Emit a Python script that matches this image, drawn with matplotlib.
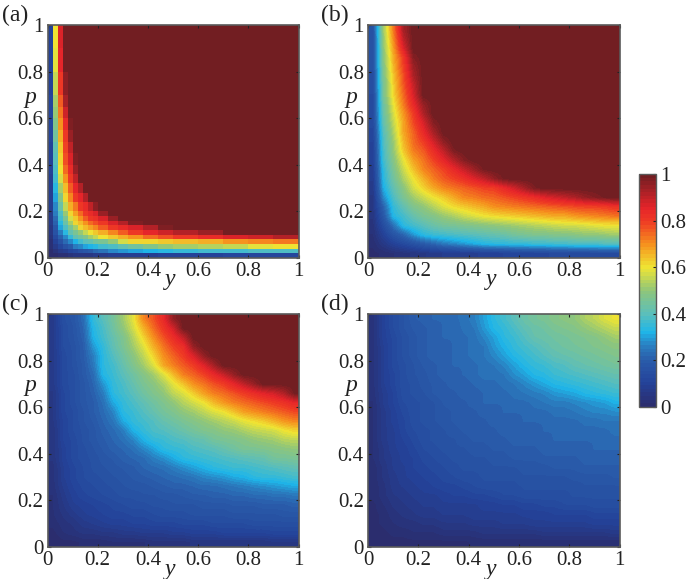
#!/usr/bin/env python3
"""Four heatmaps over (y, p) with one shared colour bar."""
import numpy as np
import matplotlib
matplotlib.use('Agg')
import matplotlib.pyplot as plt
from matplotlib.colors import LinearSegmentedColormap

W, H = 686, 579

TICKS = [0, 0.2, 0.4, 0.6, 0.8, 1]
TICK_LABELS = ['0', '0.2', '0.4', '0.6', '0.8', '1']

# panel (a) has a narrow band, so its cells get finer towards the axes
Y_EDGES_A = [0, .02, .04, .06, .08, .10, .12, .14, .16, .18, .20, .24, .28, .32, .38, .44,
             .5, .6, .7, .8, .9, 1]
P_EDGES_A = [0, .02, .04, .06, .08, .10, .12, .14, .16, .18, .20, .24, .28, .32, .36, .40,
             .45, .5, .55, .6, .65, .7, .8, .9, 1]

# values in percent, first row is the top of the panel (p = 1)
VALUES_A = [
    [10, 60, 87] + [100] * 18,
    [10, 58, 85, 99] + [100] * 17,
    [10, 55, 80, 96] + [100] * 17,
    [11, 52, 76, 93] + [100] * 17,
    [11, 50, 72, 88, 99] + [100] * 16,
    [11, 48, 69, 84, 97] + [100] * 16,
    [11, 45, 67, 81, 94] + [100] * 16,
    [10, 42, 64, 79, 90, 99] + [100] * 15,
    [10, 40, 61, 77, 87, 97] + [100] * 15,
    [10, 38, 60, 74, 84, 94] + [100] * 15,
    [9, 36, 57, 69, 80, 90, 99] + [100] * 14,
    [9, 33, 53, 65, 76, 85, 92] + [100] * 14,
    [9, 30, 47, 62, 71, 80, 85, 92, 99] + [100] * 12,
    [8, 28, 43, 56, 66, 73, 80, 84, 90, 96] + [100] * 11,
    [7, 25, 39, 50, 61, 68, 74, 80, 84, 87, 94] + [100] * 10,
    [7, 23, 36, 46, 57, 64, 70, 75, 80, 82, 87, 95] + [100] * 9,
    [7, 21, 33, 43, 53, 61, 65, 69, 74, 78, 81, 86, 92, 98] + [100] * 7,
    [6, 18, 30, 39, 46, 53, 61, 65, 68, 71, 75, 80, 83, 87, 92, 98] + [100] * 5,
    [5, 16, 25, 34, 41, 46, 50, 55, 60, 63, 66, 71, 76, 80, 85, 88, 91, 95, 99, 100, 100],
    [4, 13, 21, 28, 35, 41, 45, 48, 52, 56, 60, 63, 66, 70, 74, 78, 80, 83, 86, 89, 92],
    [3, 10, 16, 23, 27, 32, 37, 40, 42, 44, 46, 50, 57, 61, 62, 64, 65, 67, 69, 71, 72],
    [2, 7, 12, 16, 20, 25, 28, 30, 32, 34, 36, 39, 42, 45, 47, 50, 52, 54, 56, 58, 60],
    [1, 4, 7, 9, 11, 14, 16, 18, 20, 22, 24, 27, 29, 31, 32, 34, 35, 36, 37, 38, 39],
    [0, 1, 2, 3, 4, 5, 5, 6, 6, 7, 7, 8, 8, 9, 9, 10, 10, 10, 11, 11, 12],
]

VALUES_B = [
    [17, 51, 72, 93] + [100] * 21,
    [16, 50, 70, 90] + [100] * 21,
    [16, 49, 68, 86] + [100] * 21,
    [16, 48, 66, 80, 97] + [100] * 20,
    [16, 47, 65, 79, 94] + [100] * 20,
    [15, 46, 63, 77, 92] + [100] * 20,
    [15, 45, 62, 76, 89] + [100] * 20,
    [14, 45, 61, 74, 87] + [100] * 20,
    [14, 43, 59, 72, 84, 95] + [100] * 19,
    [14, 42, 57, 69, 80, 92] + [100] * 19,
    [13, 41, 55, 67, 78, 87, 97] + [100] * 18,
    [12, 39, 53, 67, 75, 84, 93] + [100] * 18,
    [11, 38, 51, 65, 74, 80, 88, 96] + [100] * 17,
    [10, 37, 50, 63, 72, 76, 83, 90, 98] + [100] * 16,
    [10, 36, 48, 59, 68, 73, 79, 85, 91, 97] + [100] * 15,
    [9, 34, 46, 56, 64, 71, 75, 79, 84, 89, 94, 99] + [100] * 13,
    [8, 33, 44, 53, 60, 66, 72, 76, 79, 82, 86, 90, 95, 99] + [100] * 11,
    [7, 31, 41, 49, 57, 62, 67, 71, 73, 75, 77, 79, 80, 84, 88, 93, 98] + [100] * 8,
    [6, 27, 38, 46, 52, 56, 60, 63, 67, 71, 72, 74, 75, 77, 79, 81, 83, 86, 88, 90, 92, 95, 97, 99, 100],
    [6, 21, 35, 41, 47, 50, 54, 58, 61, 63, 65, 67, 70, 71, 72, 73, 74, 75, 76, 77, 78, 79, 79, 80, 82],
    [5, 18, 33, 37, 42, 46, 48, 51, 53, 56, 58, 60, 61, 62, 63, 64, 65, 66, 67, 67, 69, 70, 71, 72, 73],
    [4, 14, 24, 34, 37, 40, 43, 45, 46, 47, 48, 49, 50, 51, 52, 53, 54, 55, 56, 57, 57, 58, 59, 60, 60],
    [3, 10, 17, 22, 29, 34, 36, 37, 38, 39, 40, 41, 42, 43, 45, 46, 47, 47, 48, 48, 49, 50, 50, 51, 52],
    [2, 6, 10, 13, 16, 19, 22, 25, 27, 29, 31, 33, 34, 34, 35, 35, 36, 36, 37, 37, 38, 38, 38, 39, 39],
    [1, 2, 3, 4, 5, 6, 7, 8, 8, 9, 9, 10, 10, 11, 11, 12, 12, 12, 13, 13, 13, 13, 14, 14, 14],
]

VALUES_C = [
    [7, 15, 18, 23, 35, 40, 45, 52, 59, 71, 77, 84, 96] + [100] * 12,
    [7, 14, 17, 22, 33, 38, 44, 50, 57, 66, 74, 81, 88] + [100] * 12,
    [7, 14, 17, 21, 32, 37, 42, 47, 54, 62, 70, 77, 83, 90] + [100] * 11,
    [7, 14, 16, 20, 29, 35, 41, 46, 52, 58, 66, 73, 79, 83, 95] + [100] * 10,
    [7, 13, 16, 20, 26, 34, 39, 44, 49, 55, 62, 70, 75, 80, 87, 95] + [100] * 9,
    [7, 13, 16, 19, 25, 34, 37, 42, 47, 52, 58, 67, 72, 76, 80, 86, 93] + [100] * 8,
    [7, 13, 15, 19, 23, 33, 36, 40, 44, 48, 52, 58, 65, 72, 75, 79, 84, 89, 95] + [100] * 6,
    [7, 13, 15, 18, 22, 29, 35, 38, 42, 46, 49, 53, 59, 64, 70, 73, 77, 80, 85, 90, 95] + [100] * 4,
    [6, 12, 15, 18, 21, 26, 34, 37, 40, 44, 47, 50, 55, 58, 63, 68, 72, 74, 77, 80, 83, 86, 88, 92, 99],
    [6, 12, 15, 18, 20, 24, 31, 35, 38, 41, 44, 47, 50, 54, 57, 60, 65, 69, 72, 74, 76, 78, 80, 82, 85],
    [6, 12, 14, 17, 20, 23, 27, 34, 36, 39, 42, 45, 47, 50, 52, 55, 58, 60, 64, 68, 70, 72, 74, 76, 78],
    [6, 11, 14, 17, 19, 22, 25, 31, 35, 37, 39, 42, 44, 46, 48, 50, 52, 54, 56, 59, 61, 63, 66, 69, 71],
    [5, 11, 14, 16, 18, 21, 23, 26, 32, 35, 38, 39, 41, 43, 45, 47, 48, 50, 51, 53, 55, 56, 57, 60, 62],
    [5, 11, 13, 16, 18, 20, 22, 24, 27, 32, 35, 36, 38, 39, 41, 42, 45, 46, 47, 48, 50, 51, 52, 54, 55],
    [5, 10, 13, 15, 17, 19, 21, 22, 24, 27, 30, 34, 35, 36, 38, 39, 40, 42, 44, 46, 46, 47, 48, 49, 50],
    [5, 10, 13, 15, 16, 18, 19, 21, 22, 23, 26, 28, 31, 34, 35, 36, 37, 38, 39, 40, 41, 42, 45, 45, 46],
    [4, 9, 12, 14, 16, 17, 18, 19, 20, 22, 23, 24, 26, 28, 30, 32, 34, 35, 36, 36, 37, 38, 39, 40, 41],
    [4, 9, 12, 14, 15, 16, 17, 18, 19, 20, 21, 22, 23, 24, 25, 27, 28, 29, 31, 32, 34, 35, 35, 36, 37],
    [4, 8, 11, 13, 14, 15, 16, 17, 18, 18, 19, 20, 21, 21, 22, 23, 23, 24, 25, 26, 27, 28, 29, 30, 31],
    [3, 7, 10, 12, 13, 14, 15, 16, 16, 17, 17, 18, 18, 19, 20, 20, 21, 21, 22, 22, 23, 23, 24, 24, 25],
    [3, 6, 9, 10, 11, 12, 13, 14, 15, 15, 16, 16, 17, 17, 17, 18, 18, 18, 19, 19, 19, 20, 20, 20, 21],
    [3, 5, 7, 9, 10, 11, 12, 12, 13, 13, 14, 15, 15, 15, 16, 16, 16, 16, 17, 17, 17, 17, 17, 18, 18],
    [2, 4, 5, 7, 8, 9, 10, 10, 11, 11, 12, 12, 12, 13, 13, 13, 14, 14, 14, 14, 15, 15, 15, 15, 15],
    [1, 3, 4, 5, 5, 6, 6, 7, 7, 8, 8, 8, 9, 9, 10, 10, 10, 11, 11, 11, 11, 11, 12, 12, 12],
    [0, 1, 1, 2, 2, 2, 3, 3, 3, 3, 4, 4, 4, 4, 5, 5, 5, 5, 5, 5, 5, 5, 6, 6, 6],
]

VALUES_D = [
    [4, 10, 14, 17, 20, 21, 22, 22, 23, 24, 26, 30, 34, 37, 40, 43, 45, 46, 48, 49, 50, 53, 55, 58, 60],
    [4, 10, 14, 17, 19, 20, 21, 22, 22, 24, 25, 29, 33, 35, 38, 41, 43, 44, 46, 47, 48, 50, 52, 54, 56],
    [4, 10, 13, 16, 18, 20, 21, 22, 22, 23, 24, 27, 30, 34, 36, 39, 42, 43, 44, 45, 46, 47, 48, 50, 52],
    [4, 9, 13, 16, 18, 20, 21, 21, 22, 23, 24, 25, 29, 32, 35, 37, 39, 41, 43, 44, 45, 46, 47, 48, 49],
    [4, 9, 13, 16, 18, 20, 21, 21, 22, 23, 24, 25, 27, 30, 33, 35, 37, 39, 41, 42, 43, 44, 45, 46, 47],
    [4, 9, 13, 15, 17, 19, 20, 21, 22, 22, 23, 24, 25, 27, 30, 33, 35, 36, 38, 39, 41, 42, 43, 44, 45],
    [4, 9, 12, 15, 17, 18, 20, 21, 21, 22, 23, 24, 24, 25, 28, 30, 33, 34, 36, 37, 38, 39, 40, 41, 42],
    [4, 9, 12, 15, 16, 18, 19, 20, 21, 21, 22, 23, 23, 24, 25, 27, 29, 31, 33, 34, 35, 36, 37, 38, 39],
    [4, 8, 11, 15, 16, 17, 19, 20, 20, 21, 21, 22, 22, 23, 24, 25, 26, 27, 29, 30, 31, 33, 34, 35, 36],
    [3, 8, 11, 14, 15, 16, 17, 19, 20, 20, 21, 22, 22, 22, 23, 23, 24, 25, 26, 26, 27, 28, 29, 30, 32],
    [3, 7, 10, 13, 15, 16, 17, 18, 19, 20, 20, 21, 21, 22, 22, 22, 23, 23, 24, 24, 25, 26, 27, 27, 28],
    [3, 7, 10, 12, 15, 16, 17, 18, 19, 20, 20, 20, 21, 21, 21, 22, 22, 22, 23, 23, 23, 24, 24, 25, 25],
    [3, 7, 9, 12, 14, 15, 16, 17, 18, 19, 20, 20, 20, 21, 21, 21, 21, 22, 22, 22, 22, 23, 23, 23, 24],
    [3, 7, 9, 11, 13, 15, 16, 17, 17, 18, 19, 19, 20, 20, 21, 21, 21, 21, 22, 22, 22, 22, 22, 23, 23],
    [3, 6, 9, 10, 12, 14, 15, 16, 17, 17, 18, 18, 19, 19, 20, 20, 20, 21, 21, 21, 21, 21, 22, 22, 22],
    [3, 6, 8, 10, 11, 13, 14, 15, 16, 16, 17, 17, 18, 18, 19, 19, 19, 20, 20, 20, 20, 21, 21, 21, 21],
    [2, 5, 8, 9, 11, 12, 13, 14, 15, 16, 16, 16, 17, 17, 17, 18, 18, 18, 19, 19, 19, 20, 20, 20, 20],
    [2, 5, 7, 9, 10, 11, 12, 13, 14, 15, 15, 16, 16, 16, 16, 17, 17, 17, 17, 17, 18, 18, 18, 18, 19],
    [2, 4, 7, 8, 9, 10, 11, 12, 12, 13, 14, 15, 15, 15, 15, 16, 16, 16, 16, 16, 16, 17, 17, 17, 17],
    [2, 4, 6, 7, 8, 9, 9, 10, 11, 11, 12, 12, 13, 14, 14, 15, 15, 15, 15, 15, 16, 16, 16, 16, 16],
    [1, 3, 5, 6, 7, 8, 8, 9, 9, 9, 9, 10, 10, 11, 11, 12, 12, 13, 13, 14, 14, 14, 15, 15, 15],
    [1, 2, 4, 5, 6, 7, 7, 8, 8, 8, 9, 9, 9, 9, 9, 10, 10, 10, 11, 11, 11, 11, 12, 12, 12],
    [1, 2, 3, 4, 4, 5, 5, 6, 6, 6, 7, 7, 7, 8, 8, 8, 9, 9, 9, 9, 9, 9, 10, 10, 10],
    [0, 1, 2, 2, 3, 3, 3, 4, 4, 4, 4, 5, 5, 5, 5, 5, 5, 6, 6, 6, 6, 6, 6, 6, 7],
    [0, 0, 1, 1, 1, 1, 1, 1, 1, 1, 2, 2, 2, 2, 2, 2, 2, 2, 2, 2, 2, 2, 2, 2, 2],
]

COLOUR_STOPS = [
    (0.00, '#2b2d6e'), (0.10, '#24439a'), (0.20, '#2a5dab'), (0.26, '#2a7fc1'),
    (0.32, '#1fb6e9'), (0.40, '#5dbfb9'), (0.50, '#8fc67a'), (0.60, '#efe534'),
    (0.70, '#f6921e'), (0.80, '#ef3b24'), (0.86, '#e5242a'), (1.00, '#721e22'),
]
CMAP = LinearSegmentedColormap.from_list('paper_jet', COLOUR_STOPS, N=64)

SPINE = '#5a5a5a'

plt.rcParams['font.family'] = ['Liberation Serif', 'DejaVu Serif']


def box(left, top, right, bottom):
    """Axes rectangle from pixel edges of the reference."""
    return [left / W, 1 - bottom / H, (right - left) / W, (bottom - top) / H]


def style_axes(ax):
    ax.set_xlim(0, 1)
    ax.set_ylim(0, 1)
    ax.set_xticks(TICKS)
    ax.set_xticklabels(TICK_LABELS)
    ax.set_yticks(TICKS)
    ax.set_yticklabels(TICK_LABELS)
    ax.tick_params(direction='in', length=2, width=0.8, top=True, right=True,
                   labelsize=15, color='#222222', labelcolor='#222222', pad=3)
    for s in ax.spines.values():
        s.set_color(SPINE)
        s.set_linewidth(1.2)


def fig_text(fig, px, py, s, **kw):
    fig.text(px / W, 1 - py / H, s, color='#222222', ha='center', va='center', **kw)


def draw_panels(fig):
    panels = [
        ('(a)', VALUES_A, (47.5, 25, 298.5, 258), 0),
        ('(b)', VALUES_B, (368, 25, 619.5, 258), 320),
        ('(c)', VALUES_C, (47.5, 314, 298.5, 547), 0),
        ('(d)', VALUES_D, (368, 314, 619.5, 547), 320),
    ]
    im = None
    for name, values, rect, name_x in panels:
        ax = fig.add_axes(box(*rect))
        z = np.array(values) / 100
        if name == '(a)':
            im = ax.pcolormesh(Y_EDGES_A, P_EDGES_A, z[::-1], cmap=CMAP, vmin=0, vmax=1,
                               shading='flat')
        else:
            im = ax.imshow(z, cmap=CMAP, vmin=0, vmax=1, extent=[0, 1, 0, 1],
                           aspect='auto', interpolation='bilinear',
                           interpolation_stage='data')
        style_axes(ax)
        left, top, right, bottom = rect
        fig_text(fig, name_x + 15, top - 10, name, fontsize=17)
        fig_text(fig, left - 17, top + 72, 'p', fontsize=17, style='italic')
        fig_text(fig, left + 123, bottom + 22, 'y', fontsize=17, style='italic')
    return im


def run():
    fig = plt.figure(figsize=(W / 100, H / 100), dpi=100, facecolor='white')
    im = draw_panels(fig)

    cax = fig.add_axes(box(639, 174, 656, 407))
    cb = fig.colorbar(im, cax=cax, ticks=TICKS)
    cb.ax.set_yticklabels(TICK_LABELS)
    cb.ax.tick_params(direction='in', length=2, width=0.8, labelsize=15,
                      color='#222222', labelcolor='#222222', pad=3)
    cb.outline.set_edgecolor(SPINE)
    cb.outline.set_linewidth(1.0)

    fig.savefig('out.png', dpi=100, facecolor='white')
    plt.close(fig)


if __name__ == '__main__':
    run()
